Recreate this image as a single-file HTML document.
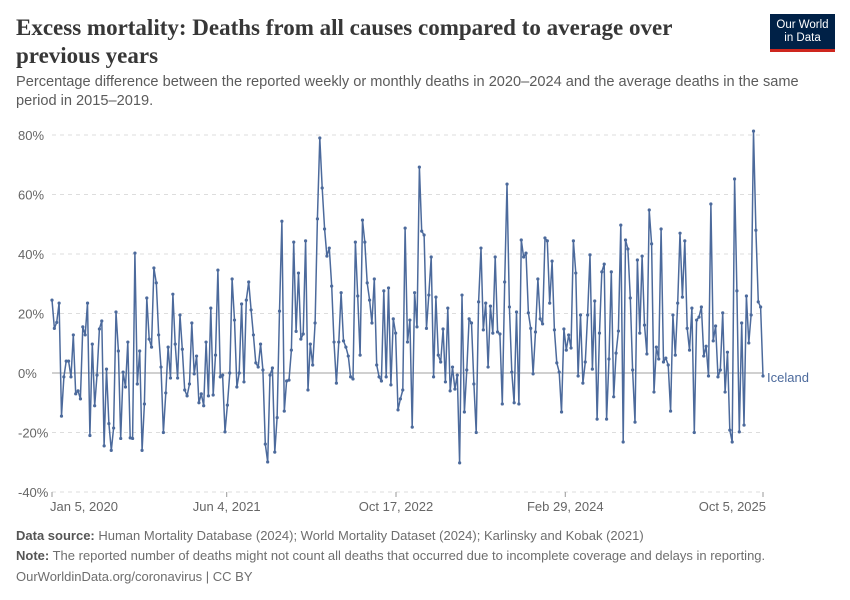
<!DOCTYPE html>
<html><head><meta charset="utf-8"><style>
body{margin:0;background:#fff;width:850px;height:600px;overflow:hidden;font-family:"Liberation Sans",sans-serif}
.t{position:absolute;left:16px;top:14px;font-family:"Liberation Serif",serif;font-weight:bold;font-size:23px;color:#373737;line-height:28px;width:700px}
.s{position:absolute;left:16px;top:73px;font-size:14.6px;color:#5b5b5b;line-height:19px;width:805px}
.logo{position:absolute;left:770px;top:14px;width:65px;height:38px;background:#002147;border-bottom:3px solid #ce261e;color:#fff;font-size:11.5px;text-align:center;line-height:13px;box-sizing:border-box;padding-top:5px}
.f{position:absolute;left:16px;font-size:13px;color:#6e6e6e}
.f b{color:#555}
</style></head><body>
<div class="t">Excess mortality: Deaths from all causes compared to average over previous years</div>
<div class="s">Percentage difference between the reported weekly or monthly deaths in 2020–2024 and the average deaths in the same period in 2015–2019.</div>
<div class="logo">Our World<br>in Data</div>
<svg id="c" width="850" height="600" style="position:absolute;left:0;top:0"></svg>
<div class="f" style="top:528px"><b>Data source:</b> Human Mortality Database (2024); World Mortality Dataset (2024); Karlinsky and Kobak (2021)</div>
<div class="f" style="top:548px"><b>Note:</b> The reported number of deaths might not count all deaths that occurred due to incomplete coverage and delays in reporting.</div>
<div class="f" style="top:569px">OurWorldinData.org/coronavirus | CC BY</div>
<script>
const yTicks=[-40,-20,0,20,40,60,80];
const xTickLabels=["Jan 5, 2020","Jun 4, 2021","Oct 17, 2022","Feb 29, 2024","Oct 5, 2025"];
const xTickDays=[0,516,1016,1516,2100];
const iceland=[24.5,15,17,23.5,-14.5,-1.3,4,4,-1.3,12.8,-7,-6,-8.7,15.5,12.8,23.5,-21,9.7,-11,-0.7,14.8,17.5,-24.5,1.3,-17,-26,-18.5,20.5,7.4,-22,0.3,-4.7,10.4,-21.8,-22,40.3,-3.7,7.4,-26,-10.4,25.2,11.4,8.7,35.3,30.3,12.8,2,-20,-6.7,8.7,-1.7,
26.5,9.7,-1.7,19.5,8,-5.7,-7.7,-3.7,16.8,-0.3,5.7,-10,-7,-11,10.4,-7.7,21.8,-7.4,6,34.6,-1.3,-0.7,-19.8,-10.8,0,31.6,17.8,-4.7,0,23.2,-3,24.5,30.6,21.2,12.8,3.4,2,9.7,1,-23.9,-29.9,-0.7,1.7,-26.6,-15,20.8,51,-12.8,-2.7,-2.4,
7.7,44,14,33.6,11.4,13.1,44.4,-5.7,9.7,2.7,16.8,51.8,79,62.2,48.4,39.3,42,29.2,10.4,-3.4,10.4,27,10.8,8.7,5.7,-1.3,-2,44,25.9,6,51.4,44,30.3,24.5,16.8,31.6,2.7,-1.3,-2.7,27.6,-1.3,28.6,-4,18.2,13.4,-12.4,-8.7,-5.7,48.7,
10.4,17.8,-18.2,27,15.5,69.2,47.7,46.4,15,26.2,39,-1.3,25.5,6,3.7,14.8,-3,21.8,-6,2,-5.4,-0.7,-30.2,26.2,-13.1,1,18.2,16.8,-3.7,-20,23.9,42,14.5,23.5,2,22.5,13.4,39,13.8,13.1,-10.4,30.6,63.5,22.2,0.3,-10,20.5,-10.4,44.7,39,40.3,
20.2,15,-0.3,13.8,31.6,18.2,16.5,45.4,44.4,23.5,37.6,14.5,3.4,0.3,-13.1,14.8,7.7,12.8,8.4,44.4,33.6,-1,19.5,-3.4,3.7,19.5,39.7,1.3,24.2,-15.5,13.4,34,36.6,-15.5,4.7,34,-8,6.7,14.1,49.7,-23.2,44.7,41.7,25.2,1,-16.5,38,13.4,39.3,16.1,6.4,54.8,
43.4,-6.4,8.7,4.7,48.4,3.7,5,2.7,-12.8,19.5,6,23.5,47,25.5,44.4,15,7.7,21.8,-20,17.8,18.8,22.2,5.7,9,-1,56.8,10.8,15.8,-1.3,1,20.2,-6.4,7,-19.2,-23.2,65.2,27.6,-19.8,16.8,-17.5,25.9,10.1,19.5,81.3,48,23.9,22.2,-1];
const NS='http://www.w3.org/2000/svg';
const svg=document.getElementById('c');
const X0=52,X1=763,Y0=373,YPX=59.5/20;
const totalDays=(iceland.length-1)*7;
function xd(d){return X0+(X1-X0)*d/totalDays;}
function xs(i){return xd(i*7);}
function ys(v){return Y0-v*YPX;}
function mk(t,a){const e=document.createElementNS(NS,t);for(const k in a)e.setAttribute(k,a[k]);svg.appendChild(e);return e;}
yTicks.forEach(v=>{
  const l=mk('line',{x1:X0,x2:X1,y1:ys(v),y2:ys(v),stroke:v===0?'#a0a0a0':'#dddddd','stroke-width':1,'stroke-dasharray':v===0?'':'4,4'});
  
  
  const t=mk('text',{x:18,y:ys(v)+5,'font-size':13,fill:'#666','font-family':'Liberation Sans, sans-serif'});
  t.textContent=v+'%';
  
  
});
xTickLabels.forEach((s,i)=>{
  const x=xd(xTickDays[i]);
  const tk=mk('line',{x1:x,x2:x,y1:492,y2:497,stroke:'#999'});
  
  
  const t=mk('text',{x:x,y:511,'font-size':13,fill:'#666','text-anchor':i===0?'start':(i===xTickLabels.length-1?'end':'middle'),'font-family':'Liberation Sans, sans-serif'});
  if(i===0)t.setAttribute('x',x-2);
  if(i===xTickLabels.length-1)t.setAttribute('x',x+3);
  t.textContent=s;
  
  
});
const pts=iceland.map((v,i)=>xs(i).toFixed(1)+','+ys(v).toFixed(1)).join(' ');
const pl=mk('polyline',{points:pts,fill:'none',stroke:'#4c6a9c','stroke-width':1.5,'stroke-linejoin':'round'});


iceland.forEach((v,i)=>{
  const c=mk('circle',{cx:xs(i),cy:ys(v),r:1.6,fill:'#4c6a9c'});
  
  
});
const lab=mk('text',{x:767,y:ys(iceland[iceland.length-1])+6,'font-size':13,fill:'#4c6a9c','font-family':'Liberation Sans, sans-serif'});
lab.textContent='Iceland';


</script>
</body></html>
